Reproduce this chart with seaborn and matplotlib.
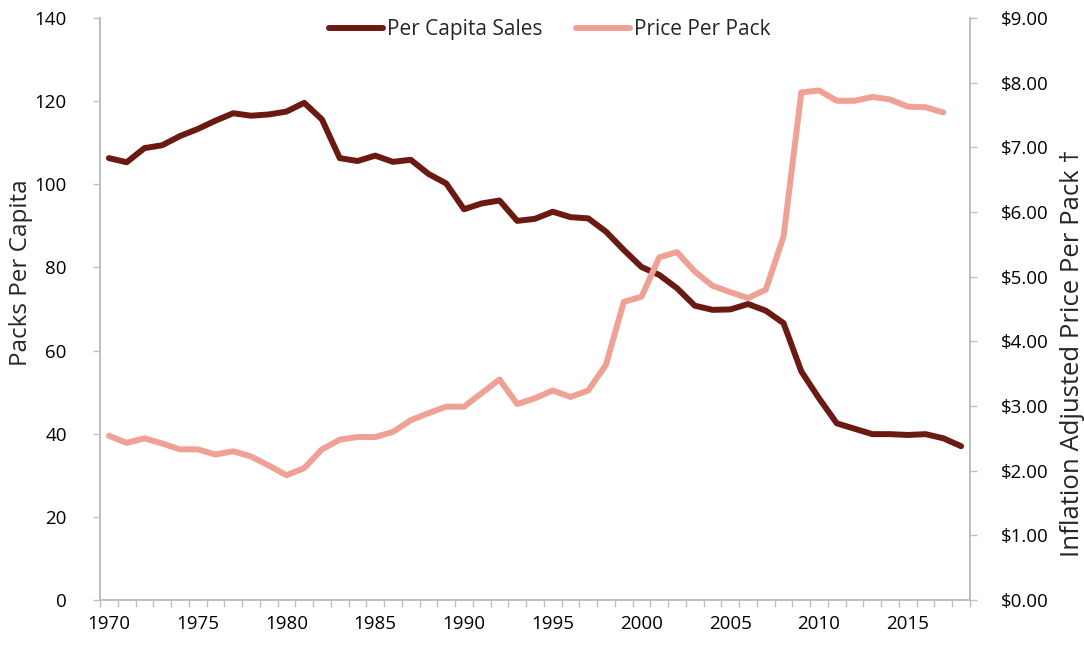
import numpy as np
import pandas as pd
import matplotlib
matplotlib.use('Agg')
import matplotlib.pyplot as plt
import seaborn as sns
from matplotlib.ticker import FixedLocator, FuncFormatter

# data
sales_years = list(range(1970, 2019))
per_capita_sales = [
    106.3, 105.3, 108.7, 109.4, 111.6, 113.3, 115.3, 117.1, 116.5, 116.8,
    117.5, 119.6, 115.6, 106.3, 105.6, 106.9, 105.4, 105.9, 102.5, 100.2,
    94.0, 95.4, 96.1, 91.2, 91.7, 93.4, 92.1, 91.8, 88.6, 84.2,
    80.1, 78.2, 75.0, 70.8, 69.8, 69.9, 71.2, 69.6, 66.6, 55.0,
    48.5, 42.5, 41.2, 39.9, 39.9, 39.7, 39.9, 38.9, 37.0,
]
price_years = list(range(1970, 2018))
price_per_pack = [
    2.54, 2.43, 2.50, 2.42, 2.33, 2.33, 2.25, 2.30, 2.22, 2.08,
    1.93, 2.04, 2.33, 2.48, 2.52, 2.52, 2.60, 2.78, 2.89, 2.99,
    2.99, 3.20, 3.41, 3.03, 3.12, 3.24, 3.14, 3.24, 3.64, 4.61,
    4.69, 5.30, 5.38, 5.08, 4.86, 4.76, 4.67, 4.80, 5.62, 7.85,
    7.88, 7.72, 7.72, 7.78, 7.74, 7.63, 7.62, 7.54,
]
year_labels = [1970, 1975, 1980, 1985, 1990, 1995, 2000, 2005, 2010, 2015]

DARK  = '#6B1A11'
LIGHT = '#EFA196'
AXIS  = '#BFBFBF'

sns.set_theme(style='white')
plt.rcParams['font.family'] = ['Open Sans', 'DejaVu Sans']

df_sales = pd.DataFrame({'year': sales_years, 'sales': per_capita_sales})
df_price = pd.DataFrame({'year': price_years, 'price': price_per_pack})

fig, ax = plt.subplots(figsize=(10.84, 6.46), dpi=100)
fig.subplots_adjust(left=0.0923, right=0.8948, bottom=0.0712, top=0.9721)
ax2 = ax.twinx()

sns.lineplot(data=df_sales, x='year', y='sales', ax=ax, color=DARK,
             linewidth=4.3, label='Per Capita Sales', legend=False)
sns.lineplot(data=df_price, x='year', y='price', ax=ax2, color=LIGHT,
             linewidth=4.3, label='Price Per Pack', legend=False)

ax.set_xlim(1969.5, 2018.5)
ax.set_ylim(0, 140)
ax2.set_ylim(0, 9)
ax.set_yticks(np.arange(0, 141, 20))
ax2.set_yticks(np.arange(0, 9.01, 1))
ax2.yaxis.set_major_formatter(FuncFormatter(lambda v, p: '${:.2f}'.format(v)))

# category style x axis: labels at year centers, ticks on boundaries
ax.set_xticks(year_labels)
ax.set_xticklabels([str(y) for y in year_labels])
ax.xaxis.set_minor_locator(FixedLocator(np.arange(1969.5, 2019, 1)))
ax.tick_params(axis='x', which='major', length=0, pad=11, labelsize=13.5, colors='black')
ax.tick_params(axis='x', which='minor', length=5, width=1, color=AXIS, direction='out', bottom=True)
ax.tick_params(axis='y', length=5, width=1, color=AXIS, direction='out', left=True,
               labelsize=13.5, labelcolor='black', pad=19)
ax2.tick_params(axis='y', length=5, width=1, color=AXIS, direction='out', right=True,
                labelsize=13.5, labelcolor='black', pad=17)

for a in (ax, ax2):
    a.spines['top'].set_visible(False)
    for s in ('left', 'right', 'bottom'):
        a.spines[s].set_color(AXIS)
        a.spines[s].set_linewidth(1.3)
    a.set_xlabel('')
    a.grid(False)

ax.set_ylabel('Packs Per Capita', fontsize=17.5)
ax.yaxis.set_label_coords(-0.077, 0.563)
ax2.set_ylabel('Inflation Adjusted Price Per Pack \u2020', fontsize=18.5)
ax2.yaxis.set_label_coords(1.103, 0.424)

h1, l1 = ax.get_legend_handles_labels()
h2, l2 = ax2.get_legend_handles_labels()
leg = ax2.legend(h1 + h2, l1 + l2, loc='upper center', bbox_to_anchor=(0.517, 1.03),
                 ncol=2, frameon=False, fontsize=15, handlelength=2.6,
                 handletextpad=0.2, columnspacing=1.6)

plt.savefig('out.png', dpi=100)
